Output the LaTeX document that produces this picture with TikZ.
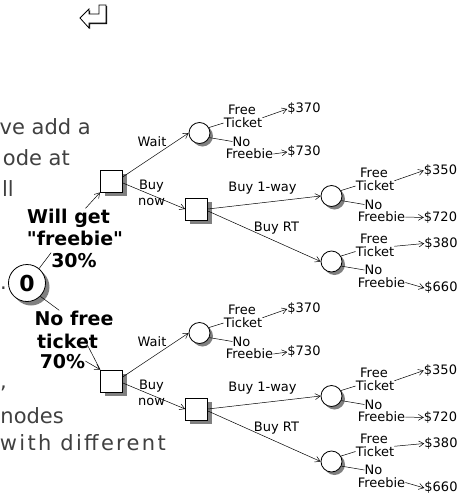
\documentclass[tikz,border=0pt]{standalone}
\usepackage{fontspec}
\setmainfont{DejaVu Sans}
\newfontfamily\probfont[Ligatures=TeXOff]{DejaVu Sans}
\usetikzlibrary{arrows.meta,positioning,shadows}

\tikzset{
  decision/.style={draw, fill=white, line width=0.8pt, minimum size=22pt, inner sep=0pt,
    drop shadow={shadow xshift=4pt, shadow yshift=-4pt, fill=black!50, opacity=1}},
  chance/.style={circle, draw, fill=white, line width=0.8pt, minimum size=21pt, inner sep=0pt,
    drop shadow={shadow xshift=#1, shadow yshift=-#1, fill=black!50, opacity=1}},
  chance/.default=3pt,
  lbl/.style={font=\fontsize{13}{16}\selectfont, inner sep=0pt},
  prob/.style={font=\probfont\fontsize{19}{20}\selectfont\bfseries, inner sep=0pt, anchor=base},
  slide/.style={font=\fontsize{21}{24}\selectfont, inner sep=0pt, anchor=base east, text=black!75},
  br/.style={-{Straight Barb[length=5pt,width=6pt]}, line width=0.5pt},
  twig/.style={line width=0.5pt},
}

\begin{document}
\begin{tikzpicture}[x=1pt, y=-1pt]
\useasboundingbox (0,0) rectangle (461,496);

% return key
\draw[line width=0.8pt, fill=white, drop shadow={shadow xshift=1.2pt, shadow yshift=-1.2pt, fill=black, opacity=1}]
  (80,18) -- (89,9) -- (89,14) -- (99,14) -- (99,5) -- (106,5) -- (106,23) -- (89,23) -- (89,28) -- cycle;

% slide text, cut at the left edge
\node[slide] (t1) at (91,134) {ve add a};
\node[slide] (t2) at (70,165) {ode at};
\node[slide] (t3) at (14,196) {ll};
\node[slide] (t4) at (7,289) {.};
\node[slide] (t5) at (7,388) {,};
\node[slide] (t6) at (64,423) {nodes};
\node[slide] (t7) at (166,450) {\addfontfeature{LetterSpace=11}with different};

% freebie chance node
\node[chance=4pt, minimum size=37pt, font=\probfont\fontsize{22}{22}\selectfont\bfseries] (o) at (27,283) {0};
\node[prob] (will) at (68.5,223) {Will get};
\node[prob] (free) at (75,245) {"freebie"};
\node[prob] (p30) at (74,267) {30\%};
\node[prob] (nofree) at (74,325) {No free};
\node[prob] (ticket) at (67.5,348) {ticket};
\node[prob] (p70) at (62.5,368) {70\%};
\draw[twig] (o.50) -- (p30.north west);
\draw[twig] (o.-45) -- ([xshift=25pt]nofree.north west);

% the two subtrees
\foreach \h/\dy in {a/0, b/200} {
\begin{scope}[shift={(0,\dy)}]
  \node[decision] (d1\h) at (111.5,181) {};
  \node[decision] (d2\h) at (196.5,209) {};
  \node[lbl] (wait\h) at (152,142) {Wait};
  \node[lbl, align=center] (now\h) at (151.5,193) {Buy\\now};
  \node[lbl] (one\h) at (262.5,188) {Buy 1-way};
  \node[lbl] (rt\h) at (276.5,228) {Buy RT};
  \foreach \c/\cx/\cy/\vt/\vb/\vx/\vyt/\vyb in
    {w/199.5/133/\$370/\$730/304/109/152,
     o/331.5/196/\$350/\$720/440.5/170.5/217.5,
     r/331.5/261.5/\$380/\$660/441/243.5/288} {
    \node[chance] (c\c\h) at (\cx,\cy) {};
    \node[lbl] (fr\c\h) at (\cx+42.5,\cy-23) {Free};
    \node[lbl] (tk\c\h) at (\cx+43.5,\cy-10) {Ticket};
    \node[lbl] (no\c\h) at (\cx+42,\cy+8.5) {No};
    \node[lbl] (fb\c\h) at (\cx+50,\cy+21) {Freebie};
    \node[lbl] (vt\c\h) at (\vx,\vyt) {\vt};
    \node[lbl] (vb\c\h) at (\vx,\vyb) {\vb};
    \draw[twig] (c\c\h.30) -- (tk\c\h.west);
    \draw[br] (tk\c\h.north east) -- (vt\c\h.west);
    \draw[twig] (c\c\h.-25) -- (no\c\h.west);
    \draw[br] (fb\c\h.east) -- (vb\c\h.west);
  }
  \draw[br] (d1\h.20) -- (cw\h.west);
  \draw[br] (d1\h.-10) -- (d2\h.west);
  \draw[br] (d2\h.east) -- (co\h.west);
  \draw[br] (d2\h.-10) -- (cr\h.west);
\end{scope}
}

\draw[br] ([xshift=17pt]will.north) -- (d1a.south west);
\draw[twig] ([xshift=17pt,yshift=-6pt]ticket.north) -- (d1b.north west);
\draw[br] (p70.east) -- (d1b.north west);
\end{tikzpicture}
\end{document}
